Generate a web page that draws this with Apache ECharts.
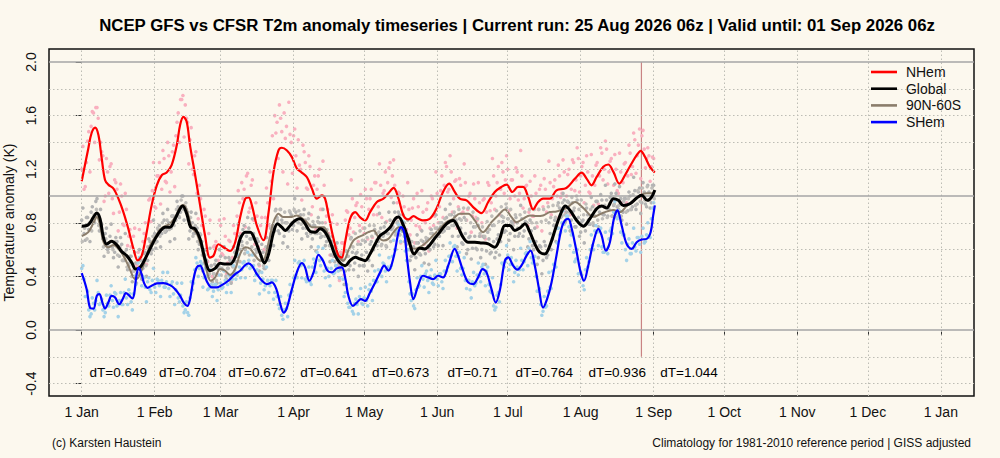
<!DOCTYPE html>
<html><head><meta charset="utf-8">
<script src="https://cdn.jsdelivr.net/npm/echarts@6/dist/echarts.min.js"></script>
<style>html,body{margin:0;padding:0;background:#fcf8ee;}#c{width:1000px;height:458px;}</style>
</head><body><div id="c"></div><script>
const titleText = 'NCEP GFS vs CFSR T2m anomaly timeseries | Current run: 25 Aug 2026 06z | Valid until: 01 Sep 2026 06z';
const footerLeft = '(c) Karsten Haustein';
const footerRight = 'Climatology for 1981-2010 reference period | GISS adjusted';
const yName = 'Temperature anomaly (K)';
const seriesNames = ['NHem', 'Global', '90N-60S', 'SHem'];
const seriesColors = ['#ff0000', '#000000', '#8b7d6b', '#0000ff'];

// x = days since 1 Jan
const monthStarts = [0,31,59,90,120,151,181,212,243,273,304,334,365];
const monthLabels = ['1 Jan','1 Feb','1 Mar','1 Apr','1 May','1 Jun','1 Jul','1 Aug','1 Sep','1 Oct','1 Nov','1 Dec','1 Jan'];
const yTicks = [-0.4,0,0.4,0.8,1.2,1.6,2.0];
const yDotted = [-0.4,-0.2,0.2,0.4,0.6,0.8,1.2,1.4,1.6,1.8];
const yRef = [0,1,2];
const runMarkerDay = 237.8;
const runMarkerSpan = [-0.2, 2.0];

const dtMid = [15.5,45,74.5,105,135.5,166,196.5,227.5,258];
const dtVals = ['0.649','0.704','0.672','0.641','0.673','0.71','0.764','0.936','1.044'];
const dtLevel = -0.316;

// smoothed lines [day, anomaly]
const nhemLine = [[0,1.11],[2.8,1.355],[4.2,1.47],[5.7,1.51],[7.1,1.455],[8.5,1.28],[9.9,1.12],[11.3,1.085],[13.5,1.055],[15.6,0.98],[17.7,0.88],[19.8,0.755],[22,0.605],[23.8,0.52],[25.5,0.555],[27.6,0.73],[29.7,0.93],[31.9,1.08],[34,1.155],[36.1,1.175],[38.2,1.23],[40.4,1.38],[41.8,1.53],[43.2,1.59],[44.6,1.555],[46,1.38],[48.2,1.155],[50.3,0.93],[52.4,0.705],[54.5,0.54],[56,0.555],[58.1,0.64],[60.2,0.6175],[63,0.59],[65.2,0.655],[67.3,0.84],[69.5,0.98],[70.9,0.99],[72.3,0.93],[74.4,0.78],[77.2,0.67],[79.4,0.88],[81.5,1.18],[83.6,1.34],[85,1.36],[87.2,1.34],[89.3,1.29],[91.4,1.205],[93.5,1.175],[95.7,1.14],[97.8,1.055],[99.9,0.98],[102,1.005],[103.4,0.98],[104.9,0.855],[107,0.68],[109.1,0.555],[110.5,0.54],[111.9,0.655],[114,0.83],[116.2,0.88],[118.3,0.84],[120.4,0.8175],[122.5,0.88],[125.4,0.955],[128.2,0.98],[130.3,1.02],[132.5,1.06],[134.6,0.98],[136.7,0.855],[138.8,0.825],[141,0.85],[143,0.83],[145,0.8175],[147.9,0.83],[150.7,0.905],[153.5,1.03],[156.1,1.0925],[158.5,1.03],[160.6,0.98],[163.5,0.9675],[166.3,0.9175],[169.8,0.8725],[172.7,0.955],[175.5,1.03],[178.3,1.0675],[180.5,1.085],[183,1.03],[185.4,1.0675],[187.5,1.0675],[189.7,0.9925],[191.8,0.9],[193.9,0.955],[196,0.98],[198.9,0.98],[201.7,1.0425],[205.9,1.06],[209.6,1.13],[212.4,1.175],[214.5,1.13],[216.6,1.08],[218.8,1.1425],[221.6,1.2175],[223.7,1.235],[225.9,1.18],[228.4,1.0925],[230.8,1.155],[233.6,1.2425],[235.8,1.305],[237.5,1.3375],[239.3,1.2925],[241.4,1.2175],[243.5,1.175]];
const globalLine = [[0,0.775],[2.8,0.785],[5,0.8425],[6.4,0.8725],[7.8,0.83],[9.2,0.6925],[10.6,0.6425],[12.7,0.6625],[14.9,0.635],[17,0.585],[19.1,0.555],[21.2,0.505],[22.9,0.455],[24.8,0.4675],[26.9,0.53],[29,0.605],[31.2,0.68],[33.3,0.7375],[35.4,0.7675],[37.5,0.7675],[39.7,0.83],[41.8,0.905],[42.9,0.925],[44.6,0.8675],[46.3,0.7675],[48.2,0.755],[50.3,0.68],[52.4,0.53],[54.5,0.4425],[56.7,0.46],[58.8,0.4975],[60.9,0.4925],[63,0.4925],[65.2,0.5425],[67.3,0.68],[69.5,0.73],[71.6,0.73],[73.7,0.6675],[75.9,0.5675],[77.6,0.5],[79.4,0.5675],[81.5,0.73],[83.2,0.7925],[85,0.7675],[86.4,0.7425],[88.6,0.78],[90.7,0.8175],[92.8,0.83],[94.9,0.7925],[97.1,0.735],[99.2,0.73],[101.3,0.755],[103.4,0.73],[105.6,0.655],[107.7,0.555],[109.8,0.5],[111.9,0.48],[114,0.5175],[116.2,0.5425],[118.3,0.53],[120.4,0.5175],[122.5,0.5675],[124.7,0.6425],[126.8,0.705],[128.9,0.73],[131.1,0.7675],[133.2,0.83],[134.6,0.8425],[136.7,0.78],[138.8,0.68],[141.3,0.5675],[143.6,0.61],[145.8,0.605],[147.9,0.635],[150,0.685],[152.1,0.73],[155,0.7925],[157.8,0.8175],[159.9,0.7675],[162,0.6925],[164.2,0.655],[167,0.655],[169.8,0.65],[172.7,0.6425],[175.5,0.6175],[177.6,0.68],[179.8,0.78],[181.9,0.78],[184,0.7425],[186.1,0.76],[188.3,0.7925],[190.4,0.73],[192.5,0.6425],[194.6,0.58],[196.8,0.5675],[198.9,0.63],[201.7,0.78],[203.8,0.88],[205.4,0.925],[207.5,0.8925],[210.3,0.8175],[213.1,0.775],[215.9,0.83],[218.8,0.905],[220.9,0.925],[223,0.91],[225.9,0.98],[228,0.9675],[230.1,0.93],[232.9,0.9425],[235.8,0.985],[237.9,1.005],[240.3,0.9675],[242.1,0.9925],[243.5,1.045]];
const extraLine = [[0,0.70],[2.8,0.73],[5,0.80],[6.4,0.8425],[7.8,0.78],[9.2,0.66],[11.3,0.6175],[13.5,0.635],[15.6,0.605],[17.7,0.555],[19.8,0.48],[22,0.3925],[23.1,0.38],[24.8,0.4175],[26.9,0.5175],[29,0.63],[31.2,0.6925],[33.3,0.75],[35.4,0.775],[37.5,0.7925],[39.7,0.8425],[41.8,0.9175],[43.2,0.935],[44.9,0.88],[46.7,0.7675],[48.9,0.7175],[51,0.605],[53.1,0.4425],[54.8,0.3675],[56.7,0.3925],[58.8,0.455],[60.9,0.4425],[63,0.41],[65.2,0.455],[67.3,0.5675],[69.5,0.6175],[71.6,0.605],[73.7,0.555],[75.9,0.5175],[77.6,0.53],[79.4,0.655],[81.5,0.805],[83.6,0.8675],[85.7,0.8425],[88.6,0.8425],[91.4,0.855],[93.5,0.835],[95.7,0.805],[97.8,0.7675],[99.9,0.7675],[102.7,0.7675],[104.9,0.705],[107,0.605],[109.1,0.5425],[111.2,0.5175],[113.3,0.5925],[115.4,0.6675],[117.5,0.6925],[119.7,0.71],[121.8,0.73],[124,0.7425],[126.1,0.6925],[128.2,0.6675],[130.3,0.68],[132.5,0.73],[134.6,0.7675],[136.7,0.73],[138.8,0.655],[141,0.605],[143.6,0.6175],[146.5,0.655],[149.3,0.705],[152.1,0.755],[155,0.805],[157.8,0.83],[160.6,0.8675],[164.2,0.8675],[167,0.8175],[170.5,0.73],[174.1,0.805],[176.9,0.855],[179.8,0.90],[182.6,0.8425],[184.7,0.805],[187.5,0.83],[190.4,0.855],[193.2,0.85],[196,0.855],[198.9,0.88],[201.7,0.885],[206,0.91],[209.6,0.955],[213.1,0.91],[217.4,0.845],[221.6,0.875],[225.9,0.895],[228.7,0.88],[231.5,0.925],[234.4,0.9625],[237.2,1.005],[240,1.02],[243.5,1.02]];
const shemLine = [[0,0.425],[2.1,0.305],[3.5,0.1675],[5,0.16],[6.4,0.255],[7.5,0.2675],[8.8,0.205],[9.9,0.16],[11.3,0.205],[12.7,0.255],[14.2,0.2425],[15.9,0.1925],[17.4,0.23],[18.8,0.275],[20.3,0.255],[21.5,0.235],[22.3,0.27],[23.2,0.40],[24.2,0.465],[25.4,0.42],[26.5,0.35],[28,0.315],[29.7,0.33],[31.9,0.3475],[34.7,0.35],[37.5,0.335],[39.7,0.305],[41.8,0.255],[43.5,0.2],[44.9,0.18],[46,0.23],[47.5,0.38],[48.9,0.4675],[50.3,0.48],[51.7,0.43],[53.4,0.355],[55.2,0.3175],[57.4,0.3175],[59.5,0.335],[62.3,0.3675],[65.2,0.4175],[67.3,0.4425],[69.5,0.485],[70.9,0.4975],[72.3,0.48],[74.4,0.4175],[76.6,0.3675],[78.7,0.3425],[80.8,0.355],[82.7,0.305],[84.4,0.1925],[85.8,0.13],[87.2,0.1675],[89.3,0.305],[91.4,0.43],[93.5,0.50],[94.9,0.4675],[96.7,0.3675],[98.5,0.43],[100.6,0.56],[102.5,0.5175],[104.4,0.4425],[106.3,0.43],[108.4,0.46],[110.5,0.4675],[111.9,0.3925],[113.3,0.255],[115.2,0.18],[116.9,0.205],[118.6,0.23],[120.4,0.2175],[122.5,0.28],[124.7,0.355],[126.8,0.43],[128.5,0.48],[130.3,0.4425],[132.5,0.5425],[134.6,0.73],[135.7,0.7675],[137,0.73],[138.1,0.555],[139.5,0.355],[140.9,0.23],[142.9,0.33],[145,0.405],[147.2,0.3925],[149.3,0.38],[151.4,0.405],[153.5,0.3925],[155.7,0.48],[158.5,0.605],[159.9,0.555],[162,0.4425],[164.2,0.355],[166.3,0.3425],[168.4,0.3925],[170.3,0.455],[172,0.43],[174.1,0.305],[175.9,0.205],[177.6,0.2925],[179.8,0.5175],[181.2,0.5425],[183.3,0.48],[185,0.45],[186.8,0.48],[189,0.555],[190.7,0.5925],[192.5,0.48],[194.3,0.305],[196,0.1675],[197.7,0.23],[199.6,0.355],[201.7,0.555],[203.8,0.755],[205.3,0.8175],[206.7,0.83],[208.2,0.755],[210.3,0.58],[212,0.43],[213.4,0.3675],[215.2,0.48],[217.4,0.655],[219.5,0.755],[220.9,0.705],[222.7,0.5925],[224.4,0.655],[226.1,0.83],[227.6,0.8925],[229.4,0.78],[231.5,0.6425],[233.6,0.605],[235.8,0.655],[237.9,0.675],[240,0.68],[241.7,0.73],[242.8,0.855],[243.5,0.93]];

// raw values: set A at 00z of each day (index = day), set B at 12z (index + 0.5)
const nhemDotsA = [1.20,1.05,1.25,1.48,1.52,1.62,1.66,1.58,1.40,1.30,1.00,1.18,1.22,0.98,1.12,1.05,0.88,1.00,0.78,0.90,0.70,0.62,0.70,0.50,0.58,0.45,0.66,0.80,0.62,0.98,1.04,0.92,1.15,1.25,1.05,1.28,1.10,1.30,1.18,1.38,1.45,1.62,1.72,1.75,1.68,1.55,1.42,1.20,1.30,1.02,1.08,0.78,0.90,0.60,0.72,0.48,0.62,0.66,0.52,0.78,0.56,0.70,0.50,0.66,0.54,0.72,0.85,0.95,1.10,1.05,1.15,0.88,1.08,0.82,0.95,0.62,0.78,0.58,0.84,0.95,1.18,1.45,1.60,1.55,1.68,1.48,1.62,1.52,1.70,1.40,1.45,1.30,1.42,1.20,1.38,1.25,1.05,1.22,0.92,1.15,1.05,1.20,0.90,1.08,0.85,0.72,0.80,0.55,0.62,0.48,0.58,0.65,0.82,0.88,0.76,0.98,0.84,0.95,0.78,0.92,0.72,0.98,0.90,1.05,0.86,1.10,0.92,1.08,1.02,1.18,1.10,1.25,1.15,1.08,0.95,1.02,0.80,0.92,0.75,0.90,0.82,0.98,0.78,0.92,0.75,0.88,0.80,0.95,0.76,0.98,0.85,1.02,0.92,1.15,1.08,1.22,1.05,1.18,0.98,1.12,0.92,1.08,0.88,1.10,0.90,1.02,0.85,0.98,0.82,0.95,0.80,0.98,0.88,1.08,0.95,1.15,1.00,1.22,1.05,1.18,1.12,1.20,0.98,1.12,1.00,1.18,1.02,1.15,0.98,1.08,0.88,1.00,0.85,1.02,0.90,1.08,0.92,1.05,0.95,1.10,0.98,1.12,1.00,1.15,1.02,1.18,1.00,1.20,1.05,1.25,1.12,1.28,1.15,1.25,1.08,1.18,1.02,1.15,1.08,1.25,1.15,1.32,1.20,1.35,1.18,1.28,1.08,1.20,1.02,1.18,1.10,1.25,1.15,1.32,1.22,1.42,1.30,1.50,1.45,1.35,1.28,1.30,1.22,1.28];
const nhemDotsB = [1.37,1.07,1.41,1.18,1.63,1.40,1.66,1.27,1.33,0.96,1.28,1.02,1.24,0.87,1.10,0.74,1.09,0.79,1.02,0.63,0.75,0.44,0.76,0.48,0.75,0.39,0.72,0.49,0.97,0.81,1.25,0.91,1.15,0.94,1.34,1.11,1.40,1.03,1.33,1.07,1.55,1.40,1.72,1.44,1.58,1.24,1.51,1.16,1.33,0.83,0.98,0.56,0.85,0.51,0.82,0.40,0.63,0.42,0.82,0.57,0.83,0.42,0.67,0.36,0.78,0.59,1.04,0.72,0.98,0.77,1.17,0.91,1.12,0.64,0.85,0.48,0.84,0.60,1.06,0.78,1.11,0.98,1.47,1.28,1.58,1.18,1.43,1.09,1.46,1.17,1.50,1.06,1.23,0.97,1.33,1.06,1.30,0.86,1.08,0.75,1.15,0.90,1.26,0.80,0.90,0.56,0.86,0.56,0.79,0.37,0.65,0.41,0.89,0.71,1.12,0.73,0.93,0.66,1.01,0.76,1.05,0.68,0.98,0.69,1.10,0.86,1.24,0.84,1.04,0.81,1.21,0.99,1.27,0.83,1.03,0.65,1.00,0.73,1.10,0.71,0.91,0.65,1.02,0.77,1.04,0.64,0.90,0.59,1.00,0.78,1.18,0.80,1.04,0.84,1.25,1.03,1.30,0.88,1.11,0.76,1.13,0.87,1.24,0.82,1.00,0.73,1.09,0.84,1.10,0.70,0.97,0.68,1.10,0.89,1.28,0.90,1.10,0.86,1.25,1.02,1.30,0.89,1.12,0.80,1.21,0.97,1.34,0.91,1.07,0.78,1.11,0.85,1.15,0.77,1.05,0.74,1.13,0.88,1.26,0.86,1.07,0.84,1.23,0.99,1.27,0.88,1.16,0.86,1.27,1.04,1.36,1.03,1.22,0.95,1.30,1.03,1.31,0.93,1.23,0.94,1.36,1.12,1.41,1.09,1.26,0.97,1.31,1.04,1.32,0.95,1.24,0.95,1.38,1.16,1.47,1.17,1.38,1.13,1.49,1.21,1.36,1.11,1.29];
const globalDotsA = [0.82,0.72,0.84,0.75,0.88,0.80,0.96,0.85,0.90,0.68,0.72,0.60,0.70,0.62,0.58,0.66,0.55,0.64,0.52,0.60,0.48,0.55,0.44,0.50,0.42,0.52,0.46,0.58,0.52,0.66,0.60,0.72,0.66,0.78,0.72,0.82,0.74,0.80,0.76,0.85,0.82,0.92,0.88,1.00,0.92,0.88,0.74,0.80,0.72,0.76,0.64,0.66,0.50,0.52,0.40,0.48,0.42,0.52,0.46,0.55,0.45,0.54,0.46,0.52,0.48,0.58,0.55,0.70,0.66,0.78,0.70,0.76,0.68,0.72,0.60,0.66,0.52,0.58,0.46,0.60,0.62,0.78,0.74,0.84,0.72,0.82,0.70,0.80,0.74,0.86,0.78,0.88,0.80,0.86,0.76,0.82,0.70,0.78,0.68,0.78,0.72,0.80,0.70,0.76,0.66,0.70,0.56,0.62,0.48,0.55,0.45,0.52,0.44,0.55,0.48,0.58,0.50,0.58,0.48,0.56,0.48,0.58,0.52,0.66,0.60,0.72,0.66,0.76,0.70,0.80,0.72,0.82,0.76,0.88,0.80,0.86,0.74,0.80,0.64,0.68,0.55,0.62,0.54,0.65,0.56,0.66,0.57,0.68,0.60,0.72,0.64,0.76,0.70,0.80,0.74,0.84,0.76,0.86,0.78,0.82,0.70,0.76,0.64,0.72,0.60,0.70,0.61,0.70,0.60,0.70,0.60,0.69,0.59,0.68,0.58,0.66,0.58,0.71,0.66,0.81,0.74,0.83,0.72,0.80,0.70,0.80,0.72,0.83,0.74,0.80,0.68,0.74,0.60,0.66,0.54,0.62,0.52,0.63,0.56,0.72,0.68,0.82,0.76,0.91,0.85,0.97,0.88,0.95,0.82,0.89,0.77,0.84,0.73,0.82,0.74,0.86,0.79,0.92,0.85,0.96,0.88,0.97,0.86,0.97,0.90,1.02,0.93,1.02,0.90,0.98,0.88,0.98,0.89,1.00,0.92,1.04,0.94,1.06,0.95,1.03,0.92,1.03,0.95,1.08];
const globalDotsB = [0.91,0.67,0.84,0.66,0.92,0.80,0.98,0.74,0.79,0.55,0.76,0.62,0.79,0.54,0.69,0.47,0.69,0.52,0.72,0.45,0.55,0.36,0.58,0.42,0.60,0.38,0.57,0.40,0.68,0.57,0.82,0.61,0.75,0.62,0.87,0.73,0.90,0.66,0.85,0.68,0.96,0.84,1.00,0.82,0.90,0.68,0.88,0.72,0.87,0.60,0.71,0.44,0.60,0.40,0.61,0.36,0.49,0.35,0.60,0.46,0.62,0.38,0.54,0.35,0.62,0.51,0.79,0.60,0.75,0.60,0.84,0.68,0.83,0.56,0.68,0.44,0.64,0.46,0.69,0.52,0.72,0.63,0.90,0.74,0.90,0.65,0.80,0.62,0.88,0.75,0.98,0.74,0.85,0.68,0.90,0.72,0.87,0.62,0.78,0.59,0.84,0.69,0.90,0.63,0.71,0.51,0.70,0.51,0.65,0.39,0.54,0.34,0.59,0.45,0.69,0.45,0.57,0.40,0.64,0.48,0.66,0.44,0.64,0.48,0.75,0.63,0.87,0.64,0.77,0.62,0.88,0.75,0.95,0.73,0.88,0.66,0.86,0.66,0.82,0.52,0.61,0.45,0.71,0.57,0.74,0.50,0.67,0.49,0.75,0.62,0.86,0.63,0.77,0.63,0.90,0.76,0.94,0.70,0.85,0.62,0.83,0.65,0.84,0.57,0.69,0.53,0.77,0.61,0.78,0.54,0.70,0.49,0.73,0.57,0.78,0.54,0.68,0.56,0.85,0.73,0.91,0.67,0.81,0.60,0.84,0.70,0.93,0.70,0.81,0.62,0.82,0.63,0.76,0.49,0.63,0.42,0.66,0.54,0.80,0.60,0.78,0.66,0.95,0.84,1.02,0.81,0.96,0.74,0.95,0.77,0.97,0.70,0.81,0.65,0.91,0.79,0.99,0.78,0.96,0.77,1.01,0.86,1.08,0.85,0.99,0.85,1.09,0.92,1.07,0.82,0.98,0.79,1.03,0.90,1.14,0.90,1.03,0.87,1.10,0.94,1.08,0.91,1.08];
const extraDots = [0.66,0.76,0.68,0.80,0.74,0.86,0.90,0.78,0.76,0.62,0.68,0.58,0.66,0.60,0.66,0.56,0.62,0.52,0.58,0.47,0.50,0.40,0.44,0.35,0.42,0.40,0.52,0.48,0.62,0.58,0.70,0.65,0.76,0.70,0.80,0.74,0.82,0.75,0.85,0.78,0.90,0.85,0.97,0.90,0.95,0.82,0.84,0.70,0.78,0.66,0.72,0.56,0.56,0.40,0.42,0.33,0.42,0.37,0.48,0.41,0.49,0.40,0.46,0.37,0.47,0.42,0.55,0.51,0.63,0.57,0.65,0.56,0.62,0.52,0.58,0.49,0.55,0.48,0.62,0.60,0.76,0.76,0.89,0.82,0.90,0.80,0.88,0.80,0.89,0.80,0.90,0.81,0.89,0.79,0.86,0.76,0.83,0.72,0.81,0.72,0.81,0.72,0.80,0.70,0.75,0.63,0.66,0.55,0.60,0.50,0.56,0.48,0.59,0.55,0.68,0.62,0.72,0.64,0.74,0.67,0.76,0.69,0.78,0.70,0.78,0.67,0.73,0.63,0.71,0.63,0.72,0.66,0.77,0.71,0.81,0.71,0.78,0.66,0.71,0.60,0.66,0.56,0.65,0.57,0.67,0.60,0.69,0.63,0.72,0.66,0.76,0.70,0.80,0.73,0.83,0.76,0.86,0.78,0.88,0.80,0.90,0.82,0.91,0.82,0.91,0.80,0.88,0.77,0.83,0.72,0.77,0.70,0.81,0.75,0.85,0.78,0.89,0.81,0.92,0.84,0.94,0.83,0.90,0.78,0.86,0.76,0.86,0.78,0.88,0.80,0.90,0.80,0.90,0.80,0.90,0.81,0.90,0.82,0.92,0.84,0.93,0.84,0.93,0.85,0.95,0.86,0.96,0.88,0.99,0.91,1.00,0.90,0.97,0.86,0.94,0.82,0.90,0.80,0.90,0.82,0.92,0.83,0.93,0.84,0.94,0.85,0.94,0.84,0.93,0.85,0.96,0.88,0.98,0.90,1.01,0.93,1.04,0.96,1.06,0.97,1.07,0.97,1.06,0.98];
const shemDotsA = [0.46,0.38,0.25,0.15,0.12,0.20,0.22,0.28,0.20,0.15,0.13,0.20,0.26,0.22,0.28,0.18,0.22,0.19,0.28,0.24,0.30,0.21,0.27,0.34,0.50,0.45,0.40,0.32,0.36,0.30,0.37,0.32,0.38,0.33,0.37,0.32,0.36,0.31,0.34,0.27,0.30,0.24,0.26,0.18,0.15,0.13,0.24,0.30,0.45,0.50,0.46,0.49,0.39,0.40,0.31,0.34,0.29,0.34,0.30,0.35,0.32,0.37,0.34,0.40,0.38,0.44,0.41,0.47,0.45,0.51,0.48,0.52,0.47,0.48,0.41,0.42,0.35,0.38,0.33,0.37,0.33,0.37,0.28,0.25,0.16,0.11,0.15,0.16,0.26,0.28,0.39,0.41,0.50,0.48,0.49,0.38,0.39,0.36,0.47,0.50,0.58,0.52,0.53,0.44,0.46,0.40,0.46,0.42,0.48,0.44,0.49,0.38,0.28,0.20,0.17,0.14,0.20,0.19,0.25,0.20,0.24,0.22,0.30,0.29,0.37,0.36,0.45,0.44,0.50,0.44,0.47,0.46,0.55,0.60,0.74,0.78,0.74,0.70,0.52,0.36,0.22,0.18,0.30,0.32,0.40,0.38,0.42,0.37,0.40,0.35,0.41,0.38,0.42,0.36,0.44,0.44,0.55,0.56,0.62,0.55,0.55,0.46,0.46,0.37,0.37,0.30,0.36,0.33,0.41,0.40,0.47,0.42,0.44,0.34,0.28,0.18,0.17,0.28,0.34,0.49,0.51,0.56,0.49,0.49,0.43,0.47,0.45,0.52,0.51,0.58,0.61,0.54,0.52,0.40,0.29,0.19,0.14,0.17,0.29,0.32,0.44,0.49,0.65,0.71,0.80,0.79,0.85,0.77,0.71,0.58,0.53,0.42,0.43,0.33,0.45,0.47,0.60,0.63,0.74,0.73,0.74,0.62,0.58,0.60,0.68,0.76,0.88,0.87,0.85,0.73,0.71,0.60,0.64,0.57,0.65,0.62,0.69,0.64,0.70,0.65,0.71,0.70,0.83,0.95];
const shemDotsB = [0.48,0.25,0.29,0.10,0.24,0.15,0.37,0.19,0.23,0.10,0.26,0.18,0.33,0.17,0.27,0.10,0.28,0.19,0.38,0.19,0.27,0.15,0.40,0.39,0.54,0.33,0.39,0.21,0.39,0.28,0.46,0.28,0.37,0.25,0.43,0.32,0.43,0.25,0.36,0.19,0.35,0.21,0.35,0.13,0.21,0.11,0.36,0.35,0.54,0.40,0.51,0.32,0.46,0.30,0.45,0.25,0.34,0.22,0.41,0.31,0.44,0.28,0.41,0.28,0.48,0.38,0.56,0.39,0.50,0.39,0.58,0.46,0.56,0.37,0.45,0.27,0.43,0.30,0.47,0.28,0.37,0.23,0.37,0.19,0.25,0.08,0.20,0.10,0.34,0.29,0.52,0.39,0.51,0.39,0.52,0.36,0.47,0.34,0.53,0.43,0.62,0.48,0.61,0.39,0.46,0.33,0.52,0.43,0.55,0.39,0.48,0.25,0.34,0.17,0.31,0.12,0.23,0.12,0.31,0.19,0.32,0.18,0.34,0.22,0.44,0.36,0.56,0.40,0.49,0.36,0.54,0.48,0.67,0.60,0.79,0.66,0.81,0.59,0.60,0.27,0.27,0.16,0.39,0.33,0.48,0.32,0.44,0.28,0.45,0.34,0.52,0.33,0.42,0.31,0.52,0.47,0.65,0.51,0.63,0.44,0.58,0.41,0.54,0.31,0.37,0.24,0.43,0.35,0.50,0.36,0.49,0.33,0.47,0.29,0.39,0.15,0.26,0.21,0.50,0.47,0.63,0.45,0.54,0.36,0.52,0.41,0.61,0.45,0.57,0.48,0.66,0.50,0.55,0.29,0.31,0.11,0.25,0.18,0.43,0.31,0.49,0.47,0.76,0.73,0.89,0.74,0.85,0.63,0.72,0.51,0.60,0.36,0.41,0.30,0.54,0.51,0.71,0.60,0.78,0.63,0.76,0.58,0.73,0.57,0.74,0.72,0.96,0.83,0.89,0.65,0.71,0.52,0.68,0.57,0.76,0.59,0.69,0.58,0.76,0.66,0.80,0.69,0.91];

const FONT = '"Liberation Sans", Arial, Helvetica, sans-serif';
const atDays = (arr, off) => arr.map((v, i) => [i + off, v]);

const gridLines = [];
yDotted.forEach(v => gridLines.push({yAxis: v, lineStyle: {type: [1.5, 2.5], color: '#bdbdb5', width: 1}}));
monthStarts.forEach(d => gridLines.push({xAxis: d, lineStyle: {type: [1.5, 2.5], color: '#bdbdb5', width: 1}}));
yRef.forEach(v => gridLines.push({yAxis: v, lineStyle: {type: 'solid', color: '#a6a6a6', width: 1.6}}));

const dotSeries = (name, data, color) => ({
  type: 'scatter', name: name, data: data, symbolSize: 3.6, silent: true, z: 2,
  itemStyle: {color: color, opacity: 1}, emphasis: {disabled: true}
});
const lineSeries = (name, data, color, width, z) => ({
  type: 'line', name: name, data: data, smooth: 0.35, symbol: 'none', silent: true, z: z,
  lineStyle: {color: color, width: width}, itemStyle: {color: color}, emphasis: {disabled: true}
});

const chart = echarts.init(document.getElementById('c'), null, {renderer: 'svg'});
chart.setOption({
  backgroundColor: '#fcf8ee',
  animation: false,
  textStyle: {fontFamily: FONT},
  title: [
    {text: titleText, left: 512, textAlign: 'center', top: 12, textStyle: {fontFamily: FONT, fontSize: 16.8, fontWeight: 'bold', color: '#000'}},
    {text: footerLeft, left: 47, top: 432, textStyle: {fontFamily: FONT, fontSize: 12, fontWeight: 'normal', color: '#111'}},
    {text: footerRight, right: 24, top: 432, textStyle: {fontFamily: FONT, fontSize: 12, fontWeight: 'normal', color: '#111'}}
  ],
  legend: {
    data: seriesNames.map((n, i) => ({name: n, icon: 'rect', itemStyle: {color: seriesColors[i], borderWidth: 0, borderColor: 'transparent', decal: 'none'}})),
    orient: 'vertical', left: 866, top: 59, itemWidth: 26, itemHeight: 2.6, itemGap: 0.7, z: 20, zlevel: 0,
    itemStyle: {borderWidth: 0}, lineStyle: {width: 0},
    formatter: n => ' ' + n, textStyle: {fontFamily: FONT, fontSize: 14, lineHeight: 16, color: '#111'}, selectedMode: false
  },
  grid: {left: 49, right: 26, top: 49, bottom: 62, containLabel: false, outerBoundsMode: 'none', show: true, borderColor: '#111', borderWidth: 1.5, backgroundColor: 'transparent'},
  xAxis: {
    type: 'value', min: -13.9, max: 379.1,
    axisLine: {show: false}, splitLine: {show: false},
    axisTick: {show: true, customValues: monthStarts, length: 6, lineStyle: {color: '#333'}},
    axisLabel: {customValues: monthStarts, formatter: v => monthLabels[monthStarts.indexOf(v)], fontFamily: FONT, fontSize: 14, color: '#111', margin: 9}
  },
  yAxis: {
    type: 'value', min: -0.4925, max: 2.097,
    name: yName, nameLocation: 'middle', nameRotate: 90, nameGap: 30,
    nameTextStyle: {fontFamily: FONT, fontSize: 14, color: '#111'},
    axisLine: {show: false}, splitLine: {show: false},
    axisTick: {show: true, customValues: yTicks, length: 6, lineStyle: {color: '#333'}},
    axisLabel: {customValues: yTicks, rotate: 90, formatter: v => v.toFixed(1), fontFamily: FONT, fontSize: 14, color: '#111', margin: 11}
  },
  series: [
    {type: 'line', name: 'gridhelper', data: [], silent: true, z: 1,
     markLine: {silent: true, symbol: 'none', label: {show: false}, animation: false, emphasis: {disabled: true}, data: gridLines}},
    {type: 'line', name: 'runMarker', silent: true, z: 1, symbol: 'none',
     data: [[runMarkerDay, runMarkerSpan[0]], [runMarkerDay, runMarkerSpan[1]]],
     lineStyle: {color: '#c98383', width: 1.2}, itemStyle: {color: '#c98383'}, emphasis: {disabled: true}},
    dotSeries('nhDotsA', atDays(nhemDotsA, 0), '#f9b0bf'),
    dotSeries('nhDotsB', atDays(nhemDotsB, 0.5), '#f9b0bf'),
    dotSeries('glDotsA', atDays(globalDotsA, 0), '#b4b4b4'),
    dotSeries('glDotsB', atDays(globalDotsB, 0.5), '#b4b4b4'),
    dotSeries('exDots', atDays(extraDots, 0.25), '#c0beba'),
    dotSeries('shDotsA', atDays(shemDotsA, 0), '#a4d2e8'),
    dotSeries('shDotsB', atDays(shemDotsB, 0.5), '#a4d2e8'),
    lineSeries('90N-60S', extraLine, seriesColors[2], 2, 3),
    lineSeries('NHem', nhemLine, seriesColors[0], 2.2, 4),
    lineSeries('Global', globalLine, seriesColors[1], 3, 5),
    lineSeries('SHem', shemLine, seriesColors[3], 2.2, 6),
    {type: 'scatter', name: 'dT', silent: true, z: 7, symbolSize: 1, itemStyle: {color: 'rgba(0,0,0,0)'},
     data: dtMid.map(d => [d, dtLevel]),
     label: {show: true, position: 'inside', formatter: p => 'dT=' + dtVals[p.dataIndex], fontFamily: FONT, fontSize: 13.5, color: '#000', opacity: 1}}
  ]
});
</script></body></html>
